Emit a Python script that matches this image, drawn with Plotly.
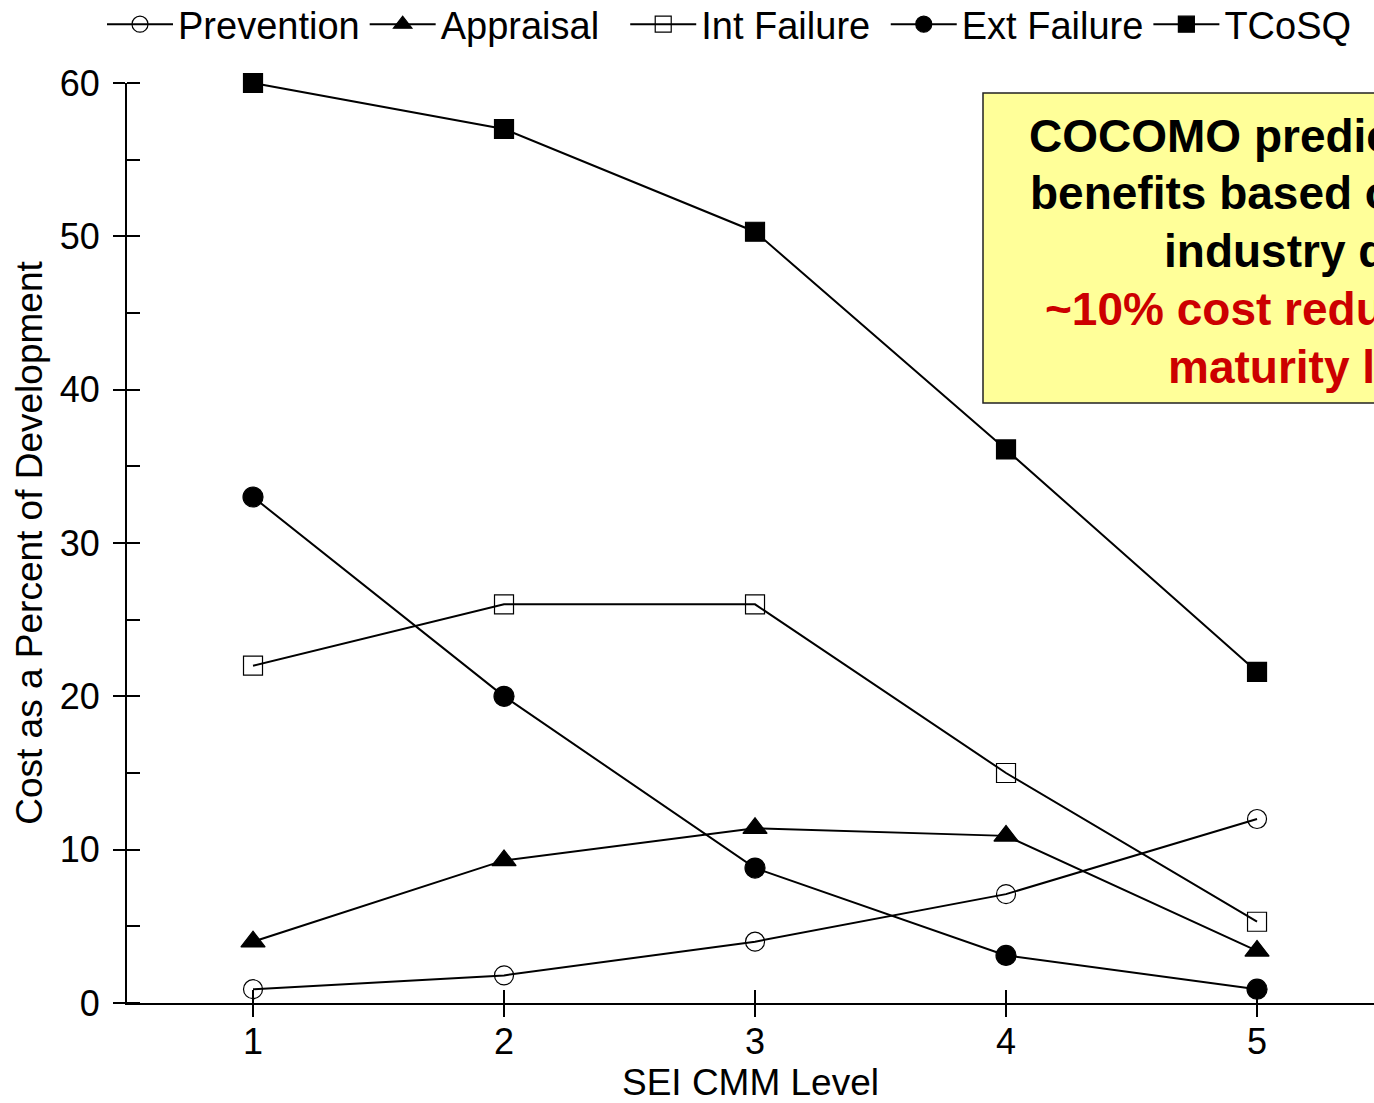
import plotly.graph_objects as go

levels = [1, 2, 3, 4, 5]
prevention = [0.9, 1.8, 4.0, 7.1, 12.0]
appraisal = [4.0, 9.3, 11.4, 10.9, 3.4]
int_failure = [22.0, 26.0, 26.0, 15.0, 5.3]
ext_failure = [33.0, 20.0, 8.8, 3.1, 0.9]
tcosq = [60.0, 57.0, 50.3, 36.1, 21.6]

series_names = ["Prevention", "Appraisal", "Int Failure", "Ext Failure", "TCoSQ"]
series_values = [prevention, appraisal, int_failure, ext_failure, tcosq]
symbols = ["circle-open", "triangle-up", "square-open", "circle", "square"]
sizes = [19, 21, 19, 20, 19]
legend_pad = ["", "\u00a0\u00a0", "\u00a0", "", ""]

box_lines = [
    ("COCOMO predicts quality", "black", 1027, 136),
    ("benefits based on actual", "black", 1028, 193),
    ("industry data", "black", 1162, 251),
    ("~10% cost reduction per", "#CC0000", 1043, 309),
    ("maturity level", "#CC0000", 1166, 367),
]

W, H = 1374, 1103
ML, MR, MT, MB = 127, 0, 83, 100
PW, PH = W - ML - MR, H - MT - MB

def px_x(p):
    return (p - ML) / PW

def px_y(p):
    return (H - MB - p) / PH

FONT = "Arial, Liberation Sans, sans-serif"

fig = go.Figure()
for name, vals, sym, size, pad in zip(series_names, series_values, symbols, sizes, legend_pad):
    fig.add_trace(go.Scatter(
        x=levels, y=vals, name=name + pad, mode="lines+markers",
        line=dict(color="black", width=2),
        marker=dict(symbol=sym, size=size, color="black",
                    line=dict(color="black", width=1.2)),
        cliponaxis=False,
    ))

fig.add_shape(type="rect", xref="paper", yref="paper",
              x0=px_x(983), x1=px_x(1400), y0=px_y(403), y1=px_y(93),
              fillcolor="#FFFF99", line=dict(color="#222222", width=1.5),
              layer="above")

for text, color, xs, yc in box_lines:
    fig.add_annotation(text=f"<b>{text}</b>", xref="paper", yref="paper",
                       x=px_x(xs), y=px_y(yc), xanchor="left", yanchor="middle",
                       showarrow=False, font=dict(family=FONT, size=46, color=color))

fig.update_layout(
    width=W, height=H,
    margin=dict(l=ML, r=MR, t=MT, b=MB, autoexpand=False),
    paper_bgcolor="white", plot_bgcolor="white",
    font=dict(family=FONT, color="black"),
    showlegend=True,
    legend=dict(orientation="h", xref="paper", yref="paper",
                x=px_x(102), y=px_y(-7), xanchor="left", yanchor="top",
                font=dict(size=38, family=FONT), itemwidth=66,
                bgcolor="rgba(0,0,0,0)", tracegroupgap=0),
)

fig.update_xaxes(
    range=[0.498, 5.466], tickvals=levels, ticktext=[str(v) for v in levels],
    showgrid=False, zeroline=False, showline=True, linecolor="black", linewidth=2,
    ticks="outside", ticklen=12, tickwidth=2, tickcolor="black",
    minor=dict(ticks="inside", ticklen=13, tickwidth=2, tickcolor="black", tickvals=levels),
    tickfont=dict(size=36, family=FONT), ticklabelstandoff=-6,
    title=dict(text="SEI CMM Level", font=dict(size=37, family=FONT), standoff=6),
)
fig.update_yaxes(
    range=[0, 60], tickvals=[0, 10, 20, 30, 40, 50, 60],
    showgrid=False, zeroline=False, showline=True, linecolor="black", linewidth=2,
    ticks="outside", ticklen=12, tickwidth=1.5, tickcolor="black",
    minor=dict(ticks="inside", ticklen=13, tickwidth=1.5, tickcolor="black", dtick=5),
    tickfont=dict(size=36, family=FONT), ticklabelstandoff=6,
    title=dict(text="Cost as a Percent of Development", font=dict(size=37, family=FONT), standoff=6),
)

fig.write_html("out.html", config={"displayModeBar": False},
               post_script="document.body.style.margin='0';document.body.style.overflow='hidden';")
